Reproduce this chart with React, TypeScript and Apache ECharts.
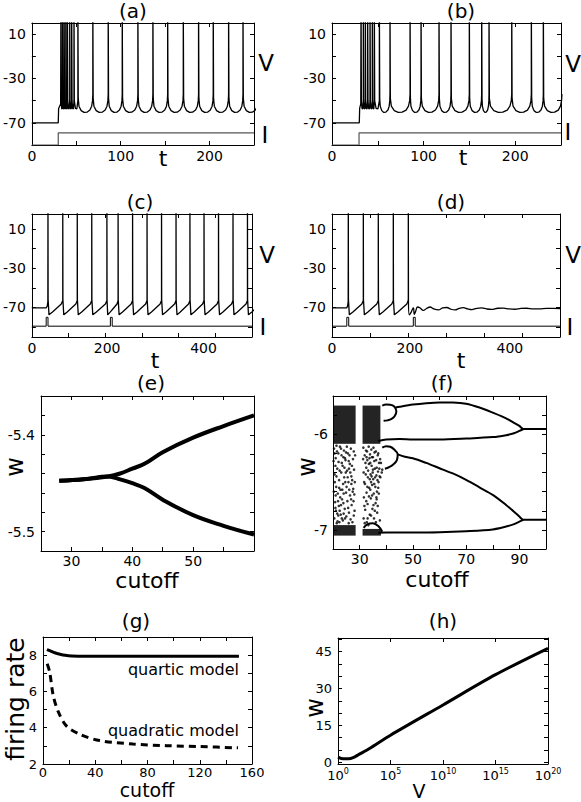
import { useEffect, useRef } from "react";
import * as echarts from "echarts";

const FONT = "DejaVu Sans";
const INK = "#000";

// ---------- (a) ----------
const aStart = [[0, -70], [29.7, -70], [30.1, -57], [32.4, -53]];
const aBurstSpikes = [32.7, 34.5, 36.3, 38.2, 40.0, 42.6, 44.8, 47.4, 51.8];
const aTonicSpikes = [68.6, 85.9, 101.7, 119.3, 136.2, 152.8, 170.4, 187.6, 204.1, 221.4, 237.6];
const aEndT = 255;
const aCurrent = [[0, -90], [29.7, -90], [29.7, -79], [250, -79]];

// ---------- (b) ----------
const bStart = [[0, -70], [29.8, -70], [30.2, -57], [31.4, -53]];
const bBurstSpikes = [31.7, 34.2, 36.4, 38.9, 41.5, 44.0, 46.2, 51.7];
const bTonicSpikes = [63.3, 85.2, 97.2, 116.8, 129.9, 149.9, 163.4, 171.4, 196.2, 217.6, 230.7];
const bEndT = 251;
const bCurrent = [[0, -90], [29.5, -90], [29.5, -79], [250, -79]];

// V read at fractions of one inter-spike interval
const burstTrough = [[0, -50], [0.3, -57], [0.7, -57.5], [1, -50]];
const tonicTrough = [[0, -48], [0.05, -55], [0.2, -59], [0.4, -60.6], [0.6, -60.4], [0.8, -58.5], [0.92, -55], [0.98, -50], [1, -44]];
const cdTrough = [[0, -62], [0.06, -77.5], [0.3, -74.5], [0.6, -70.5], [0.9, -66.5], [1, -63]];
const spikePeak = 40;

// ---------- (c) ----------
const cStart = [[0, -70.5], [39, -70.5], [42, -68.5], [43.6, -64]];
const cSpikes = [43.9, 84.2, 123.7, 163.2, 204.5, 235, 274.5, 313.9, 353.4, 392.9, 430.8, 469.2, 508.7, 548.2, 587.6];
const cEndT = 627;
const cdCurrent = [[0, -89], [39, -89], [39, -80], [44, -80], [44, -89], [214, -89], [214, -80], [219, -80], [219, -89], [600, -89]];

// ---------- (d) ----------
const dStart = [[0, -70.5], [38.7, -70.5], [41, -68.5], [42.6, -64]];
const dSpikes = [42.9, 82.4, 121.8, 161.3, 200.8];
const dTail = [[201.2, -62], [203.5, -77.5], [208, -75], [212, -71.5], [214.5, -70.5], [216.5, -77], [220, -74], [225, -69.5], [232, -70.5], [240, -73], [249, -71], [258, -69.5], [268, -71.5], [280, -72.5], [291, -70.5], [302, -70], [313, -71.8], [324, -72.5], [335, -70.8], [346, -70.2], [357, -71.5], [368, -72.2], [381, -70.8], [394, -70.4], [407, -71.5], [420, -72], [436, -70.8], [451, -70.6], [466, -71.5], [482, -71.8], [497, -70.9], [512, -70.8], [530, -71.5], [547, -71.4], [565, -70.9], [583, -71], [600, -71.2]];

// ---------- (e) ----------
const eUpper = [[28, -5.4475], [32, -5.446], [36, -5.443], [38, -5.44], [40, -5.435], [42, -5.43], [45, -5.418], [50, -5.403], [55, -5.391], [60, -5.38]];
const eLower = [[28, -5.4475], [32, -5.446], [36, -5.443], [38, -5.446], [40, -5.45], [42, -5.455], [45, -5.467], [50, -5.483], [55, -5.494], [60, -5.503]];

// ---------- (f) ----------
const fUpperTop = [[43.5, -5.72], [45, -5.712], [50, -5.69], [55, -5.675], [60, -5.667], [65, -5.668], [70, -5.68], [75, -5.72], [80, -5.774], [85, -5.833], [88, -5.88], [90, -5.913], [91.5, -5.945], [100, -5.945]];
const fUpperBottom = [[37, -6.07], [40, -6.055], [45, -6.05], [50, -6.055], [60, -6.055], [70, -6.045], [80, -6.03], [85, -6.01], [88, -5.99], [90, -5.965], [91.5, -5.945]];
const fUpperLoop = [[38.5, -5.70], [40, -5.69], [41.5, -5.692], [43, -5.71], [43.8, -5.76], [43.2, -5.81], [42, -5.84], [40.5, -5.855], [39, -5.86]];
const fLowerTop = [[44.3, -6.21], [47, -6.235], [50, -6.251], [55, -6.30], [60, -6.355], [65, -6.41], [70, -6.477], [75, -6.555], [80, -6.634], [85, -6.739], [88, -6.81], [90, -6.861], [91.5, -6.895], [100, -6.895]];
const fLowerBottom = [[37, -7.03], [40, -7.028], [50, -7.028], [60, -7.025], [70, -7.014], [80, -6.995], [85, -6.965], [88, -6.94], [90, -6.913], [91.5, -6.895]];
const fLowerLoop = [[38.5, -6.14], [40, -6.125], [41.5, -6.13], [43, -6.16], [44.3, -6.21], [44, -6.27], [42.5, -6.32], [41, -6.345], [39.5, -6.36]];
const fBubble = [[31.5, -6.98], [33, -6.94], [35, -6.93], [37, -6.96], [38.5, -7.02]];
// dense bands [c0, c1, wTop, wBottom]
const fDenseBands = [[20, 28.5, -5.70, -6.10], [31.1, 37.8, -5.70, -6.10], [20, 28.5, -6.95, -7.06], [31.1, 38, -6.99, -7.06]];
const fChaos = [
  [20.4, -6.15], [20.6, -6.42], [20.8, -6.71], [20.5, -6.88], [21.0, -6.25], [21.2, -6.55], [21.1, -6.80], [21.5, -6.18], [21.6, -6.36], [21.8, -6.62],
  [21.7, -6.91], [22.1, -6.29], [22.3, -6.48], [22.2, -6.75], [22.6, -6.13], [22.8, -6.58], [22.9, -6.84], [23.2, -6.22], [23.1, -6.40], [23.4, -6.68],
  [23.6, -6.33], [23.8, -6.52], [23.7, -6.90], [24.1, -6.17], [24.2, -6.45], [24.4, -6.78], [24.7, -6.27], [24.9, -6.61], [25.0, -6.86], [25.3, -6.38],
  [25.4, -6.70], [25.6, -6.20], [25.8, -6.50], [26.0, -6.82], [26.3, -6.31], [26.4, -6.64], [26.7, -6.15], [26.9, -6.44], [27.0, -6.74], [27.3, -6.92],
  [27.5, -6.26], [27.6, -6.57], [27.9, -6.37], [28.1, -6.80], [20.9, -6.33], [21.4, -6.93], [22.4, -6.92], [23.0, -6.15], [24.6, -6.50], [25.2, -6.13],
  [26.1, -6.58], [26.6, -6.89], [27.2, -6.48], [20.3, -6.60], [23.9, -6.72], [22.0, -6.85], [24.8, -6.40], [25.9, -6.28], [27.7, -6.70], [28.3, -6.22],
  [20.2, -6.28], [20.7, -6.50], [20.9, -6.77], [21.3, -6.12], [21.3, -6.44], [21.9, -6.70], [21.6, -6.83], [22.0, -6.20], [22.5, -6.38], [22.7, -6.66],
  [22.5, -6.80], [23.3, -6.30], [23.5, -6.58], [23.3, -6.88], [23.9, -6.24], [24.0, -6.62], [24.3, -6.35], [24.5, -6.88], [24.9, -6.19], [25.1, -6.55],
  [25.5, -6.45], [25.7, -6.77], [25.9, -6.93], [26.2, -6.22], [26.5, -6.40], [26.8, -6.68], [27.1, -6.33], [27.4, -6.60], [27.8, -6.18], [27.8, -6.85],
  [28.2, -6.50], [28.0, -6.63], [20.6, -6.20], [21.0, -6.64], [22.3, -6.56], [24.0, -6.83], [26.0, -6.36], [26.9, -6.52], [24.5, -6.25], [23.0, -6.74],
  [31.4, -6.14], [31.5, -6.40], [31.6, -6.66], [31.5, -6.88], [31.9, -6.22], [32.0, -6.52], [32.1, -6.79], [32.4, -6.17], [32.5, -6.35], [32.6, -6.61],
  [32.7, -6.92], [32.9, -6.27], [33.1, -6.45], [33.0, -6.73], [33.4, -6.13], [33.5, -6.31], [33.6, -6.56], [33.8, -6.84], [33.9, -6.21], [34.1, -6.42],
  [34.2, -6.67], [34.4, -6.16], [34.5, -6.33], [34.7, -6.53], [34.8, -6.78], [35.0, -6.24], [35.1, -6.47], [35.3, -6.62], [35.4, -6.88], [35.6, -6.19],
  [35.7, -6.36], [35.9, -6.55], [36.0, -6.72], [36.2, -6.27], [36.3, -6.43], [36.5, -6.60], [36.6, -6.82], [36.8, -6.22], [36.9, -6.39], [37.1, -6.50],
  [37.3, -6.30], [37.5, -6.44], [37.6, -6.90], [32.2, -6.30], [33.3, -6.95], [34.0, -6.58], [35.2, -6.14], [36.1, -6.92], [34.9, -6.40], [33.7, -6.25],
  [31.3, -6.26], [31.7, -6.50], [31.8, -6.75], [32.3, -6.42], [32.5, -6.70], [32.8, -6.18], [32.9, -6.55], [33.2, -6.38], [33.5, -6.65], [33.8, -6.47],
  [34.0, -6.30], [34.3, -6.50], [34.3, -6.85], [34.6, -6.24], [34.7, -6.64], [35.0, -6.37], [35.2, -6.74], [35.5, -6.28], [35.5, -6.52], [35.8, -6.45],
  [36.1, -6.18], [36.4, -6.35], [36.4, -6.68], [36.7, -6.48], [37.0, -6.20], [37.2, -6.62], [37.4, -6.36], [37.7, -6.26], [38.0, -6.30], [38.3, -6.40],
  [33.0, -6.88], [31.9, -6.93], [36.8, -6.75], [32.6, -6.24], [34.5, -6.44], [38.5, -6.37], [37.8, -6.45], [37.0, -6.56], [36.3, -6.66], [35.7, -6.80],
];

// ---------- (g) ----------
const gQuartic = [[3, 8.31], [6, 8.22], [9, 8.13], [13, 8.05], [17, 7.99], [22, 7.955], [30, 7.945], [60, 7.94], [100, 7.94], [150, 7.935]];
const gQuadratic = [[3.2, 7.53], [5.1, 7.08], [7.7, 5.82], [11.5, 4.91], [17.9, 4.10], [28.1, 3.64], [43.4, 3.29], [68.9, 3.10], [94.5, 3.01], [120, 2.96], [149.3, 2.89]];

// ---------- (h) ---------- (V given as power of ten)
const hExp = [0, 0.5, 1, 1.5, 2, 3, 5, 10, 15, 20];
const hW = [2.1, 1.4, 1.4, 2.0, 3.2, 5.6, 11, 23.3, 35.6, 46.3];

// axes ticks / labels
const abXTicks = [0, 50, 100, 150, 200, 250];
const abXLabels = [0, 100, 200];
const abYTicks = [-70, -50, -30, -10, 10];
const abYLabels = [-70, -30, 10];
const cdXTicks = [0, 100, 200, 300, 400, 500, 600];
const cdXLabelPos = [0, 205, 468];
const cdXLabelText = ["0", "200", "400"];
const cdYTicks = [-90, -70, -50, -30, -10, 10];
const cdYLabels = [-70, -30, 10];
const eXTicks = [30, 35, 40, 45, 50, 55];
const eXLabels = [30, 40, 50];
const eYTicks = [-5.5, -5.48, -5.46, -5.44, -5.42, -5.4, -5.38];
const eYLabels = [-5.5, -5.4];
const fXTicks = [30, 40, 50, 60, 70, 80, 90];
const fXLabels = [30, 50, 70, 90];
const fYTicks = [-7, -6.8, -6.6, -6.4, -6.2, -6, -5.8];
const fYLabels = [-7, -6];
const gXTicks = [20, 40, 60, 80, 100, 120, 140];
const gXLabels = [0, 40, 80, 120, 160];
const gYTicks = [3, 4, 5, 6, 7, 8];
const gYLabels = [2, 4, 6, 8];
const hXTicks = [5, 10, 15];
const hXLabels = [0, 5, 10, 15, 20];
const hYTicks = [0, 5, 10, 15, 20, 25, 30, 35, 40, 45, 50];
const hYLabels = [0, 15, 30, 45];

function buildTrace(start: number[][], spikes: number[], troughOf: (i: number) => number[][], endT: number | null): number[][] {
  const pts = start.map((p) => [p[0], p[1]]);
  spikes.forEach((ts, i) => {
    pts.push([ts, spikePeak]);
    const next = i + 1 < spikes.length ? spikes[i + 1] : endT;
    if (next === null) {
      pts.push([ts + 0.4, -62]);
      return;
    }
    const span = next - ts - 0.4;
    for (const [f, v] of troughOf(i)) pts.push([ts + 0.4 + f * span, v]);
  });
  return pts;
}

const GRIDS = [
  { left: 27, top: 23, width: 227, height: 122 },
  { left: 332, top: 23, width: 229, height: 122 },
  { left: 24, top: 214, width: 228, height: 123 },
  { left: 332, top: 214, width: 228, height: 123 },
  { left: 41, top: 396, width: 213, height: 155 },
  { left: 333, top: 396, width: 213, height: 153 },
  { left: 43, top: 637, width: 209, height: 127 },
  { left: 338, top: 638, width: 210, height: 126 },
];

function axisPair(grid: number, dim: "x" | "y", min: number, max: number, ticks: number[], labels: number[], fmt: (v: number) => string, margin: number, rich?: any, fontSize = 14) {
  const main: any = {
    gridIndex: grid,
    type: "value",
    min,
    max,
    position: dim === "x" ? "bottom" : "left",
    axisLine: { show: true, onZero: false, lineStyle: { color: INK, width: 1 } },
    axisTick: { show: true, inside: true, length: 4, customValues: ticks, lineStyle: { color: INK, width: 1 } },
    axisLabel: { show: true, customValues: labels, formatter: fmt, margin, color: INK, fontSize, fontFamily: FONT, rich },
    splitLine: { show: false },
  };
  const mirror: any = { ...main, position: dim === "x" ? "top" : "right", axisLabel: { show: false } };
  return [main, mirror];
}

function txt(text: string, x: number, y: number, size: number, opts: any = {}) {
  return {
    type: "text",
    x,
    y,
    rotation: opts.rotation || 0,
    silent: true,
    style: {
      text,
      fontSize: size,
      fontFamily: FONT,
      fill: INK,
      textAlign: opts.align || "center",
      align: opts.align || "center",
      textVerticalAlign: "middle",
      verticalAlign: "middle",
    },
  };
}

export default function App() {
  const ref = useRef<HTMLDivElement>(null);
  useEffect(() => {
    if (!ref.current) return;
    const chart = echarts.init(ref.current, undefined, { renderer: "svg" });

    const aTrace = buildTrace(aStart, [...aBurstSpikes, ...aTonicSpikes], (i) => (i < aBurstSpikes.length - 1 ? burstTrough : tonicTrough), aEndT);
    const bTrace = buildTrace(bStart, [...bBurstSpikes, ...bTonicSpikes], (i) => (i < bBurstSpikes.length - 1 ? burstTrough : tonicTrough), bEndT);
    const cTrace = buildTrace(cStart, cSpikes, () => cdTrough, cEndT);
    const dTrace = buildTrace(dStart, dSpikes, () => cdTrough, null);

    const num = (v: number) => String(v);
    const xAxes: any[] = [];
    const yAxes: any[] = [];
    const xm = 4;
    const ym = 6;
    xAxes.push(...axisPair(0, "x", 0, 250, abXTicks, abXLabels, num, xm));
    yAxes.push(...axisPair(0, "y", -90, 20, abYTicks, abYLabels, num, ym));
    xAxes.push(...axisPair(1, "x", 0, 250, abXTicks, abXLabels, num, xm));
    yAxes.push(...axisPair(1, "y", -90, 20, abYTicks, abYLabels, num, ym));
    const cdFmt = (v: number) => cdXLabelText[cdXLabelPos.indexOf(v)] ?? "";
    xAxes.push(...axisPair(2, "x", 0, 600, cdXTicks, cdXLabelPos, cdFmt, xm));
    yAxes.push(...axisPair(2, "y", -100, 25, cdYTicks, cdYLabels, num, ym));
    xAxes.push(...axisPair(3, "x", 0, 600, cdXTicks, cdXLabelPos, cdFmt, xm));
    yAxes.push(...axisPair(3, "y", -100, 25, cdYTicks, cdYLabels, num, ym));
    xAxes.push(...axisPair(4, "x", 25, 60, eXTicks, eXLabels, num, 3));
    yAxes.push(...axisPair(4, "y", -5.52, -5.36, eYTicks, eYLabels, (v) => v.toFixed(1), ym));
    xAxes.push(...axisPair(5, "x", 20, 100, fXTicks, fXLabels, num, 3));
    yAxes.push(...axisPair(5, "y", -7.2, -5.6, fYTicks, fYLabels, num, 5));
    xAxes.push(...axisPair(6, "x", 0, 160, gXTicks, gXLabels, num, 2, undefined, 13));
    yAxes.push(...axisPair(6, "y", 2, 9, gYTicks, gYLabels, num, ym, undefined, 13));
    xAxes.push(
      ...axisPair(7, "x", 0, 20, hXTicks, hXLabels, (v) => `{b|10}{s|${v}}`, 3, {
        b: { fontSize: 13, fontFamily: FONT, color: INK, verticalAlign: "bottom", lineHeight: 15 },
        s: { fontSize: 8, fontFamily: FONT, color: INK, verticalAlign: "top", lineHeight: 15 },
      }, 13)
    );
    yAxes.push(...axisPair(7, "y", -0.7, 50.5, hYTicks, hYLabels, num, ym, undefined, 13));

    const line = (g: number, data: number[][], extra: any = {}) => ({
      type: "line",
      xAxisIndex: 2 * g,
      yAxisIndex: 2 * g,
      data,
      symbol: "none",
      showSymbol: false,
      clip: true,
      lineStyle: { color: INK, width: 1.3, ...(extra.lineStyle || {}) },
      smooth: extra.smooth ?? false,
      silent: true,
    });

    const series: any[] = [
      line(0, aTrace),
      line(0, aCurrent, { lineStyle: { color: "#555", width: 1.2 } }),
      line(1, bTrace),
      line(1, bCurrent, { lineStyle: { color: "#555", width: 1.2 } }),
      line(2, cTrace),
      line(2, cdCurrent, { lineStyle: { width: 1 } }),
      line(3, dTrace),
      line(3, dTail, { smooth: 0.4 }),
      line(3, cdCurrent, { lineStyle: { width: 1 } }),
      line(4, eUpper, { smooth: 0.4, lineStyle: { width: 4 } }),
      line(4, eLower, { smooth: 0.4, lineStyle: { width: 4 } }),
      {
        type: "scatter",
        xAxisIndex: 10,
        yAxisIndex: 10,
        data: fChaos,
        symbolSize: 2.6,
        itemStyle: { color: INK },
        silent: true,
        markArea: {
          silent: true,
          itemStyle: { color: "rgba(0,0,0,0.86)" },
          data: fDenseBands.map(([c0, c1, w0, w1]) => [{ coord: [c0, w0] }, { coord: [c1, w1] }]),
        },
      },
      line(5, fUpperTop, { smooth: 0.3, lineStyle: { width: 2 } }),
      line(5, fUpperBottom, { smooth: 0.3, lineStyle: { width: 2 } }),
      line(5, fUpperLoop, { smooth: 0.4, lineStyle: { width: 2 } }),
      line(5, fLowerTop, { smooth: 0.3, lineStyle: { width: 2 } }),
      line(5, fLowerBottom, { smooth: 0.3, lineStyle: { width: 2 } }),
      line(5, fLowerLoop, { smooth: 0.4, lineStyle: { width: 2 } }),
      line(5, fBubble, { smooth: 0.4, lineStyle: { width: 2 } }),
      line(6, gQuartic, { smooth: 0.3, lineStyle: { width: 3 } }),
      line(6, gQuadratic, { smooth: 0.3, lineStyle: { width: 3, type: [7, 5] } }),
      line(7, hExp.map((e, i) => [e, hW[i]]), { smooth: 0.3, lineStyle: { width: 3 } }),
    ];

    const graphics: any[] = [
      txt("(a)", 133, 11, 20), txt("(b)", 461, 11, 20), txt("(c)", 140, 202, 20), txt("(d)", 451, 202, 20),
      txt("(e)", 151, 383, 20), txt("(f)", 442, 383, 20), txt("(g)", 136, 621, 20), txt("(h)", 443, 621, 20),
      txt("t", 163, 158, 22), txt("t", 463, 157, 22), txt("t", 155, 360, 22), txt("t", 461, 360, 22),
      txt("V", 266, 63, 23), txt("V", 573, 64, 23), txt("V", 267, 255, 23), txt("V", 573, 255, 23),
      txt("I", 265, 135, 23), txt("I", 568, 132, 23), txt("I", 263, 327, 23), txt("I", 570, 327, 23),
      txt("cutoff", 147, 580, 22), txt("cutoff", 437, 579, 22), txt("cutoff", 147, 790, 19),
      txt("V", 419, 791, 19),
      txt("w", 15, 467, 24, { rotation: Math.PI / 2 }), txt("w", 307, 467, 24, { rotation: Math.PI / 2 }),
      txt("w", 315, 708, 24, { rotation: Math.PI / 2 }),
      txt("firing rate", 15, 699, 25, { rotation: Math.PI / 2 }),
      txt("quartic model", 239, 669, 16, { align: "right" }),
      txt("quadratic model", 239, 730, 16, { align: "right" }),
    ];

    chart.setOption({
      animation: false,
      backgroundColor: "#fff",
      grid: GRIDS.map((g) => ({ ...g, containLabel: false, show: false })),
      xAxis: xAxes,
      yAxis: yAxes,
      series,
      graphic: { elements: graphics },
    });
    return () => chart.dispose();
  }, []);
  return <div ref={ref} style={{ position: "fixed", left: 0, top: 0, width: 581, height: 802, background: "#fff" }} />;
}
